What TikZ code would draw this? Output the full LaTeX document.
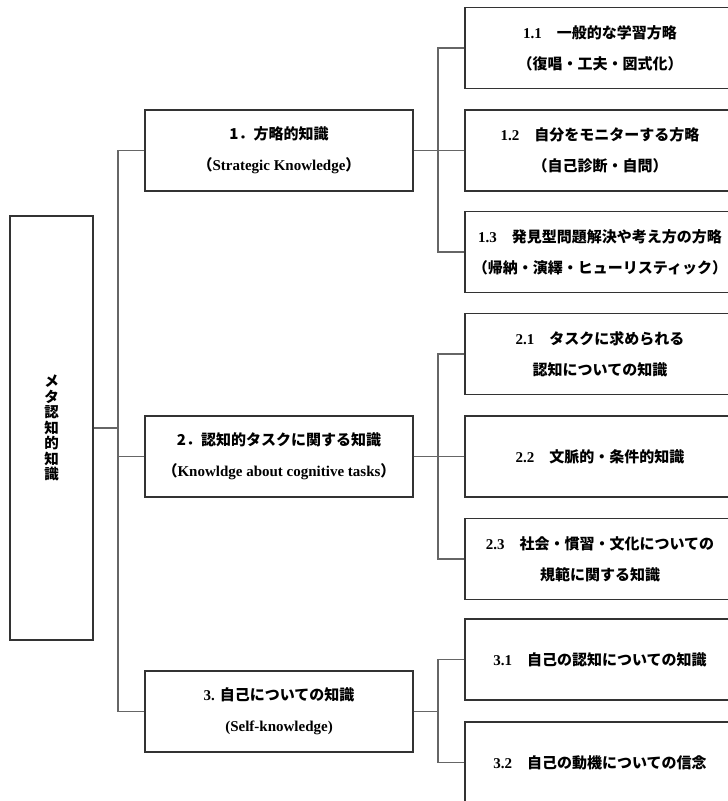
\documentclass[tikz,border=0pt]{standalone}
\usepackage{fontspec}
\setmainfont{Liberation Serif}
\newfontfamily\cjk{Noto Sans CJK JP}
\usepackage{tikz}

\begin{document}
\begin{tikzpicture}[x=1pt, y=-1pt,
        box/.style={draw=black!80, line width=1.3pt, align=center, inner sep=0pt,
            font=\fontsize{15}{31}\selectfont\bfseries},
        topbox/.style={box, minimum width=268pt, minimum height=81pt},
        subbox/.style={box, minimum width=270pt, minimum height=81pt},
        link/.style={draw=black!60, line width=1.3pt}]
        \useasboundingbox (0,0) rectangle (728,801);
        \clip (0,0) rectangle (728,801);
        % root
        \node[box, minimum width=83pt, minimum height=424pt,
            font=\fontsize{14.5}{15.5}\selectfont\bfseries] (root) at (51.5,428)
            {\cjk メ\\\cjk タ\\\cjk 認\\\cjk 知\\\cjk 的\\\cjk 知\\\cjk 識};
        % first level
        \node[topbox] (str) at (279,150.5) {{\cjk 1．方略的知識}\\{\cjk （}Strategic Knowledge{\cjk ）}};
        \node[topbox] (task) at (279,456.5) {{\cjk 2．認知的タスクに関する知識}\\{\cjk （}Knowldge about cognitive tasks{\cjk ）}};
        \node[topbox] (self) at (279,711.5) {3. {\cjk 自己についての知識}\\(Self-knowledge)};
        % second level
        \node[subbox] (str1) at (600,48) {1.1\quad{\cjk 一般的な学習方略}\\{\cjk （復唱・工夫・図式化）}};
        \node[subbox] (str2) at (600,150.5) {1.2\quad{\cjk 自分をモニターする方略}\\{\cjk （自己診断・自問）}};
        \node[subbox] (str3) at (600,252) {1.3\quad{\cjk 発見型問題解決や考え方の方略}\\{\cjk （帰納・演繹・ヒューリスティック）}};
        \node[subbox] (task1) at (600,354) {2.1\quad{\cjk タスクに求められる}\\{\cjk 認知についての知識}};
        \node[subbox] (task2) at (600,456.5) {2.2\quad{\cjk 文脈的・条件的知識}};
        \node[subbox] (task3) at (600,559) {2.3\quad{\cjk 社会・慣習・文化についての}\\{\cjk 規範に関する知識}};
        \node[subbox] (self1) at (600,659.5) {3.1\quad{\cjk 自己の認知についての知識}};
        \node[subbox] (self2) at (600,762.5) {3.2\quad{\cjk 自己の動機についての信念}};
        % trunks
        \coordinate (ltrunk) at (118,0);
        \coordinate (rtrunk) at (438,0);
        \draw[link] (root.east) -- (ltrunk |- root.east);
        \draw[link] (str.west) -| (ltrunk |- self.west) -- (self.west);
        \draw[link] (task.west) -- (ltrunk |- task.west);
        \draw[link] (str.east) -- (rtrunk |- str.east);
        \draw[link] (str1.west) -| (rtrunk |- str3.west) -- (str3.west);
        \draw[link] (str2.west) -- (rtrunk |- str2.west);
        \draw[link] (task.east) -- (rtrunk |- task.east);
        \draw[link] (task1.west) -| (rtrunk |- task3.west) -- (task3.west);
        \draw[link] (task2.west) -- (rtrunk |- task2.west);
        \draw[link] (self.east) -- (rtrunk |- self.east);
        \draw[link] (self1.west) -| (rtrunk |- self2.west) -- (self2.west);
    \end{tikzpicture}
\end{document}
